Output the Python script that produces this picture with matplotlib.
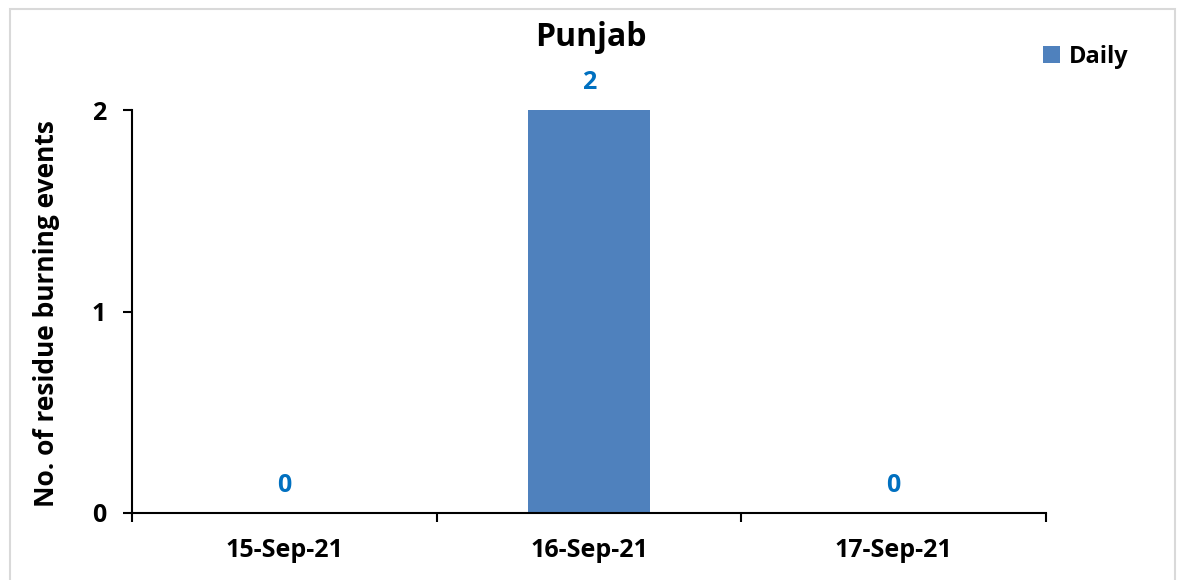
import matplotlib
matplotlib.use("Agg")
import matplotlib.pyplot as plt
from matplotlib.patches import Rectangle

dates = ['15-Sep-21', '16-Sep-21', '17-Sep-21']
daily = [0, 2, 0]

plt.rcParams['font.family'] = ['Open Sans', 'DejaVu Sans']
plt.rcParams['font.weight'] = 'bold'

fig = plt.figure(figsize=(11.82, 5.8), dpi=100)
# light grey chart border
fig.patches.append(Rectangle((10/1182, -0.05), 1165/1182, 1 - 9/580 + 0.05,
                             transform=fig.transFigure, fill=False,
                             edgecolor='#D9D9D9', linewidth=1.5))

ax = fig.add_axes([132/1182, 1 - 513/580, (1046-132)/1182, (513-110)/580])
pos = list(range(len(dates)))
bars = ax.bar(pos, daily, width=0.4, color='#4F81BD', label='Daily')

for x, v in zip(pos, daily):
    ax.annotate(str(v), (x, v), xytext=(0, 20), textcoords='offset points',
                ha='center', va='center', color='#0070C0', fontsize=18,
                fontweight='bold')

ax.set_xlim(-0.5, 2.5)
ax.set_ylim(0, 2)
ax.set_yticks([0, 1, 2])
ax.set_xticks([-0.5, 0.5, 1.5, 2.5])
ax.set_xticklabels([])
ax.set_xticks(pos, minor=True)
ax.set_xticklabels(dates, minor=True)
ax.tick_params(axis='x', which='minor', length=0, pad=18, labelsize=18)
ax.tick_params(axis='x', which='major', length=6.5, width=1.5, direction='out')
ax.tick_params(axis='y', length=6.5, width=1.5, direction='out', labelsize=18, pad=12)

for s in ['top', 'right']:
    ax.spines[s].set_visible(False)
for s in ['left', 'bottom']:
    ax.spines[s].set_linewidth(1.5)

ax.set_ylabel('No. of residue burning events', fontsize=19, fontweight='bold', va='center')
ax.yaxis.set_label_coords(-0.094, 0.496)
fig.text(591/1182, 1 - 38/580, 'Punjab', ha='center', va='center', fontsize=23,
         fontweight='bold')
leg = ax.legend(loc='center left', bbox_to_anchor=(1022/1182, 1 - 57/580),
                bbox_transform=fig.transFigure, frameon=False, fontsize=17,
                handlelength=0.7, handleheight=0.7, handletextpad=0.4)

fig.savefig('out.png', dpi=100)
